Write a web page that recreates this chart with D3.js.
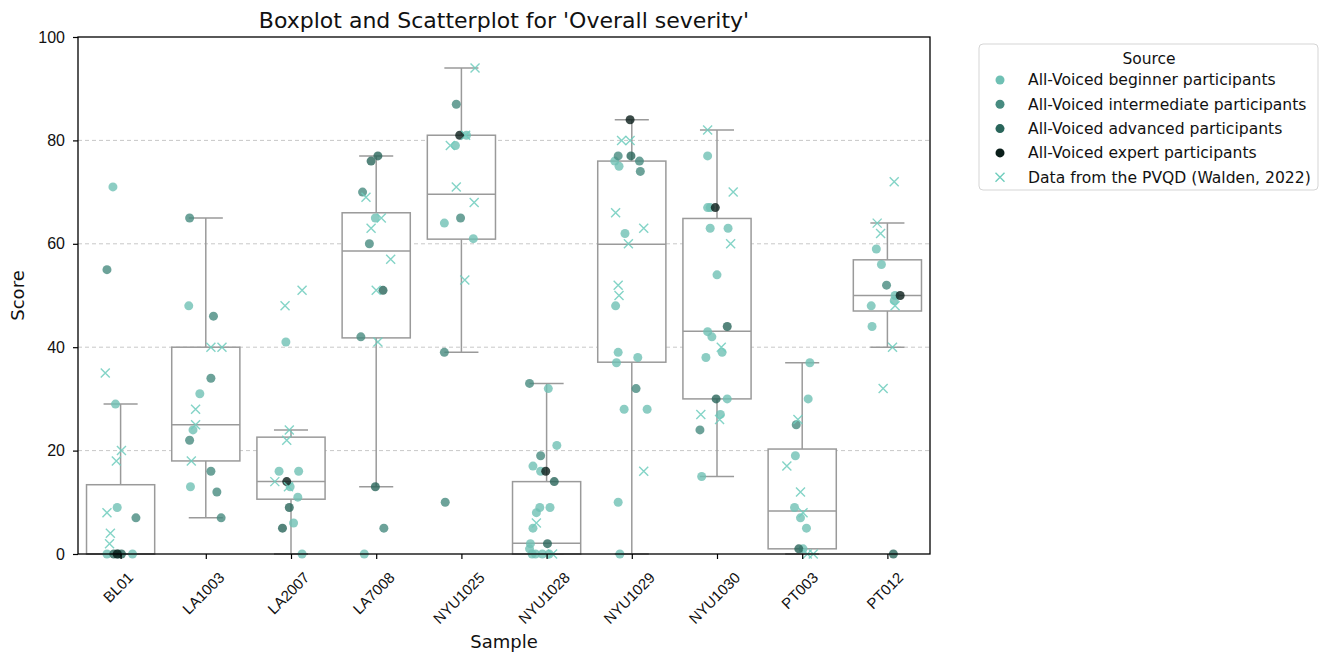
<!DOCTYPE html>
<html>
<head>
<meta charset="utf-8">
<script src="https://cdn.jsdelivr.net/npm/d3@7"></script>
<style>
  body { margin: 0; background: #fff; }
  svg { font-family: "DejaVu Sans", sans-serif; }
</style>
</head>
<body>
<svg id="chart"></svg>
<script>
// categories and box statistics
let samples = ["BL01", "LA1003", "LA2007", "LA7008", "NYU1025", "NYU1028", "NYU1029", "NYU1030", "PT003", "PT012"]
let whiskerLow  = [0, 7, 0, 13, 39, 0, 0, 15, 0, 40]
let q1s         = [0, 18, 10.6, 41.8, 60.9, 0, 37.1, 30, 1, 47]
let medians     = [0, 25, 14, 58.6, 69.6, 2.1, 59.9, 43.1, 8.3, 50]
let q3s         = [13.4, 40, 22.6, 66, 81, 14, 76, 64.9, 20.3, 56.9]
let whiskerHigh = [29, 65, 24, 77, 94, 33, 84, 82, 37, 64]

let yTicks = [0, 20, 40, 60, 80, 100]

// points: [sample, score, jitter (in category units)]
let beginner = [
  ["BL01", 71, -0.09], ["BL01", 29, -0.06], ["BL01", 9, -0.04], ["BL01", 0, -0.16], ["BL01", 0, 0.14],
  ["LA1003", 48, -0.2], ["LA1003", 31, -0.07], ["LA1003", 24, -0.15], ["LA1003", 13, -0.18],
  ["LA2007", 41, -0.06], ["LA2007", 16, -0.14], ["LA2007", 16, 0.09], ["LA2007", 13, -0.01], ["LA2007", 11, 0.08], ["LA2007", 6, 0.03], ["LA2007", 0, 0.13],
  ["LA7008", 65, -0.01], ["LA7008", 0, -0.14],
  ["NYU1025", 79, -0.07], ["NYU1025", 81, 0.06], ["NYU1025", 64, -0.2], ["NYU1025", 61, 0.14],
  ["NYU1028", 32, 0.02], ["NYU1028", 21, 0.12], ["NYU1028", 17, -0.16], ["NYU1028", 16, -0.07], ["NYU1028", 9, -0.08], ["NYU1028", 9, 0.04],
  ["NYU1028", 8, -0.12], ["NYU1028", 5, -0.16], ["NYU1028", 2, -0.19], ["NYU1028", 1, -0.2], ["NYU1028", 0, -0.13], ["NYU1028", 0, -0.05], ["NYU1028", 0, 0.03], ["NYU1028", 0, -0.17],
  ["NYU1029", 76, -0.2], ["NYU1029", 75, -0.15], ["NYU1029", 62, -0.08], ["NYU1029", 48, -0.19], ["NYU1029", 39, -0.16], ["NYU1029", 38, 0.07],
  ["NYU1029", 37, -0.18], ["NYU1029", 28, -0.09], ["NYU1029", 28, 0.18], ["NYU1029", 10, -0.16], ["NYU1029", 0, -0.14],
  ["NYU1030", 77, -0.11], ["NYU1030", 67, -0.11], ["NYU1030", 67, -0.08], ["NYU1030", 63, -0.08], ["NYU1030", 63, 0.13], ["NYU1030", 54, 0.0],
  ["NYU1030", 43, -0.11], ["NYU1030", 42, -0.06], ["NYU1030", 39, 0.06], ["NYU1030", 38, -0.13], ["NYU1030", 30, 0.12], ["NYU1030", 27, 0.04], ["NYU1030", 15, -0.18],
  ["PT003", 37, 0.09], ["PT003", 30, 0.07], ["PT003", 19, -0.08], ["PT003", 9, -0.09], ["PT003", 7, -0.02], ["PT003", 5, 0.05], ["PT003", 1, 0.01],
  ["PT012", 59, -0.13], ["PT012", 56, -0.07], ["PT012", 50, 0.09], ["PT012", 49, 0.08], ["PT012", 48, -0.19], ["PT012", 44, -0.18]
]
let intermediate = [
  ["BL01", 55, -0.16], ["BL01", 7, 0.18], ["BL01", 0, -0.03],
  ["LA1003", 65, -0.19], ["LA1003", 46, 0.09], ["LA1003", 34, 0.06], ["LA1003", 22, -0.19], ["LA1003", 16, 0.06], ["LA1003", 12, 0.13], ["LA1003", 7, 0.18],
  ["LA7008", 70, -0.16], ["LA7008", 60, -0.08], ["LA7008", 42, -0.18], ["LA7008", 5, 0.09],
  ["NYU1025", 87, -0.06], ["NYU1025", 65, -0.01], ["NYU1025", 39, -0.2], ["NYU1025", 10, -0.19],
  ["NYU1028", 33, -0.2], ["NYU1028", 19, -0.07],
  ["NYU1029", 77, -0.16], ["NYU1029", 76, 0.09], ["NYU1029", 74, 0.1], ["NYU1029", 32, 0.05],
  ["NYU1030", 24, -0.2],
  ["PT003", 25, -0.07],
  ["PT012", 52, -0.01]
]
let advanced = [
  ["BL01", 0, -0.08], ["BL01", 0, 0.01],
  ["LA2007", 9, -0.02], ["LA2007", 5, -0.1],
  ["LA7008", 77, 0.02], ["LA7008", 76, -0.06], ["LA7008", 51, 0.08], ["LA7008", 13, -0.01],
  ["NYU1028", 14, 0.09], ["NYU1028", 2, 0.01],
  ["NYU1029", 77, -0.01],
  ["NYU1030", 44, 0.12], ["NYU1030", 30, -0.01],
  ["PT003", 1, -0.04],
  ["PT012", 0, 0.07]
]
let expert = [
  ["BL01", 0, -0.04],
  ["LA2007", 14, -0.05],
  ["NYU1025", 81, -0.02],
  ["NYU1028", 16, -0.01],
  ["NYU1029", 84, -0.02],
  ["NYU1030", 67, -0.02],
  ["PT012", 50, 0.15]
]
let pvqd = [
  ["BL01", 35, -0.18], ["BL01", 20, 0.01], ["BL01", 18, -0.05], ["BL01", 8, -0.16], ["BL01", 4, -0.12], ["BL01", 2, -0.13],
  ["LA1003", 40, 0.06], ["LA1003", 40, 0.19], ["LA1003", 28, -0.12], ["LA1003", 25, -0.12], ["LA1003", 18, -0.17],
  ["LA2007", 51, 0.13], ["LA2007", 48, -0.07], ["LA2007", 24, -0.02], ["LA2007", 22, -0.05], ["LA2007", 14, -0.19], ["LA2007", 13, -0.03],
  ["LA7008", 69, -0.12], ["LA7008", 65, 0.06], ["LA7008", 63, -0.06], ["LA7008", 57, 0.17], ["LA7008", 51, 0.0], ["LA7008", 41, 0.02],
  ["NYU1025", 94, 0.16], ["NYU1025", 81, 0.05], ["NYU1025", 79, -0.13], ["NYU1025", 71, -0.06], ["NYU1025", 68, 0.15], ["NYU1025", 53, 0.04],
  ["NYU1028", 6, -0.12], ["NYU1028", 0, 0.07],
  ["NYU1029", 80, -0.12], ["NYU1029", 80, -0.02], ["NYU1029", 66, -0.19], ["NYU1029", 63, 0.14], ["NYU1029", 60, -0.04], ["NYU1029", 52, -0.16], ["NYU1029", 50, -0.15], ["NYU1029", 16, 0.14],
  ["NYU1030", 82, -0.11], ["NYU1030", 70, 0.19], ["NYU1030", 60, 0.16], ["NYU1030", 40, 0.05], ["NYU1030", 27, -0.19], ["NYU1030", 26, 0.03],
  ["PT003", 26, -0.05], ["PT003", 17, -0.18], ["PT003", 12, -0.02], ["PT003", 8, 0.01], ["PT003", 0, 0.06], ["PT003", 0, 0.13],
  ["PT012", 72, 0.08], ["PT012", 64, -0.12], ["PT012", 62, -0.08], ["PT012", 48, 0.09], ["PT012", 40, 0.06], ["PT012", 32, -0.05]
]

let groups = [
  {name: "All-Voiced beginner participants", data: beginner, color: "#6fc0b4"},
  {name: "All-Voiced intermediate participants", data: intermediate, color: "#478b80"},
  {name: "All-Voiced advanced participants", data: advanced, color: "#29655a"},
  {name: "All-Voiced expert participants", data: expert, color: "#0a1e1a"}
]
let pvqdName = "Data from the PVQD (Walden, 2022)"
let pvqdColor = "#6fcdbd"

let width = 1326
let height = 655
let plotLeft = 78, plotRight = 930, plotTop = 37, plotBottom = 554

let svg = d3.select("#chart").attr("width", width).attr("height", height)

let xScale = d3.scaleLinear().domain([-0.5, samples.length - 0.5]).range([plotLeft, plotRight])
let yScale = d3.scaleLinear().domain([0, 100]).range([plotBottom, plotTop])
let idx = s => samples.indexOf(s)

// grid
svg.append("g").selectAll("line")
    .data(yTicks.filter(t => t > 0 && t < 100))
    .enter().append("line")
    .attr("x1", plotLeft).attr("x2", plotRight)
    .attr("y1", d => yScale(d)).attr("y2", d => yScale(d))
    .attr("stroke", "#c8c8c8").attr("stroke-width", 1)
    .attr("stroke-dasharray", "4,3")

// boxes
let boxColor = "#9a9a9a"
let boxes = svg.append("g").attr("fill", "none").attr("stroke", boxColor).attr("stroke-width", 1.5)
samples.forEach((s, i) => {
    let g = boxes.append("g")
    g.append("line").attr("x1", xScale(i)).attr("x2", xScale(i)).attr("y1", yScale(q3s[i])).attr("y2", yScale(whiskerHigh[i]))
    g.append("line").attr("x1", xScale(i)).attr("x2", xScale(i)).attr("y1", yScale(q1s[i])).attr("y2", yScale(whiskerLow[i]))
    g.append("line").attr("x1", xScale(i - 0.2)).attr("x2", xScale(i + 0.2)).attr("y1", yScale(whiskerHigh[i])).attr("y2", yScale(whiskerHigh[i]))
    g.append("line").attr("x1", xScale(i - 0.2)).attr("x2", xScale(i + 0.2)).attr("y1", yScale(whiskerLow[i])).attr("y2", yScale(whiskerLow[i]))
    g.append("rect").attr("x", xScale(i - 0.4)).attr("width", xScale(i + 0.4) - xScale(i - 0.4))
        .attr("y", yScale(q3s[i])).attr("height", yScale(q1s[i]) - yScale(q3s[i]))
        .attr("fill", "#fff")
    g.append("line").attr("x1", xScale(i - 0.4)).attr("x2", xScale(i + 0.4)).attr("y1", yScale(medians[i])).attr("y2", yScale(medians[i]))
})

// dots
groups.forEach(grp => {
    svg.append("g").selectAll("circle")
        .data(grp.data)
        .enter().append("circle")
        .attr("cx", d => xScale(idx(d[0]) + d[2]))
        .attr("cy", d => yScale(d[1]))
        .attr("r", 4.5)
        .attr("fill", grp.color)
        .attr("fill-opacity", 0.8)
})

// crosses
let crossPath = "M-4.5,-4.5L4.5,4.5M-4.5,4.5L4.5,-4.5"
svg.append("g").selectAll("path")
    .data(pvqd)
    .enter().append("path")
    .attr("transform", d => "translate(" + xScale(idx(d[0]) + d[2]) + "," + yScale(d[1]) + ")")
    .attr("d", crossPath)
    .attr("stroke", pvqdColor).attr("stroke-width", 1.4).attr("stroke-opacity", 0.85)
    .attr("fill", "none")

// frame
svg.append("rect").attr("x", plotLeft).attr("y", plotTop).attr("width", plotRight - plotLeft).attr("height", plotBottom - plotTop)
    .attr("fill", "none").attr("stroke", "#000").attr("stroke-width", 1.3)

// axes
let yAxis = d3.axisLeft(yScale).tickValues(yTicks).tickSize(5).tickPadding(8)
let yg = svg.append("g").attr("transform", "translate(" + plotLeft + ",0)").call(yAxis)
yg.select(".domain").remove()
yg.selectAll("text").attr("font-size", 16).attr("fill", "#111")
yg.selectAll("line").attr("stroke", "#000").attr("stroke-width", 1.2)

let xAxis = d3.axisBottom(xScale).tickValues(d3.range(samples.length)).tickFormat(i => samples[i]).tickSize(5)
let xg = svg.append("g").attr("transform", "translate(0," + plotBottom + ")").call(xAxis)
xg.select(".domain").remove()
xg.selectAll("line").attr("stroke", "#000").attr("stroke-width", 1.2)
xg.selectAll("text")
    .attr("font-size", 15).attr("fill", "#111")
    .attr("text-anchor", "middle").attr("dy", "0.35em").attr("y", 0)
    .each(function(d) {
        let w = this.getComputedTextLength()
        let h = 14
        let cy = 16 + (w + h) * Math.SQRT1_2 / 2
        d3.select(this).attr("transform", "translate(-3," + cy + ") rotate(-45)")
    })

// titles
svg.append("text").attr("x", (plotLeft + plotRight) / 2).attr("y", 28)
    .attr("text-anchor", "middle").attr("font-size", 22).attr("fill", "#111")
    .text("Boxplot and Scatterplot for 'Overall severity'")
svg.append("text").attr("x", (plotLeft + plotRight) / 2).attr("y", 648)
    .attr("text-anchor", "middle").attr("font-size", 18).attr("fill", "#111")
    .text("Sample")
svg.append("text").attr("transform", "translate(24," + ((plotTop + plotBottom) / 2) + ") rotate(-90)")
    .attr("text-anchor", "middle").attr("font-size", 18).attr("fill", "#111")
    .text("Score")

// legend
let legend = svg.append("g").attr("transform", "translate(979,44)")
legend.append("rect").attr("width", 339).attr("height", 146).attr("rx", 4)
    .attr("fill", "#fff").attr("stroke", "#d5d5d5").attr("stroke-width", 1)
legend.append("text").attr("x", 170).attr("y", 20).attr("text-anchor", "middle")
    .attr("font-size", 15.5).attr("fill", "#111").text("Source")
groups.forEach((grp, k) => {
    let rowY = 36 + k * 24.3
    legend.append("circle").attr("cx", 21).attr("cy", rowY).attr("r", 4.5).attr("fill", grp.color)
    legend.append("text").attr("x", 49).attr("y", rowY).attr("dy", "0.35em")
        .attr("font-size", 15.6).attr("fill", "#111").text(grp.name)
})
let lastY = 36 + 4 * 24.3
legend.append("path").attr("transform", "translate(21," + lastY + ")").attr("d", crossPath)
    .attr("stroke", pvqdColor).attr("stroke-width", 1.4).attr("fill", "none")
legend.append("text").attr("x", 49).attr("y", lastY).attr("dy", "0.35em")
    .attr("font-size", 15.6).attr("fill", "#111").text(pvqdName)
</script>
</body>
</html>
